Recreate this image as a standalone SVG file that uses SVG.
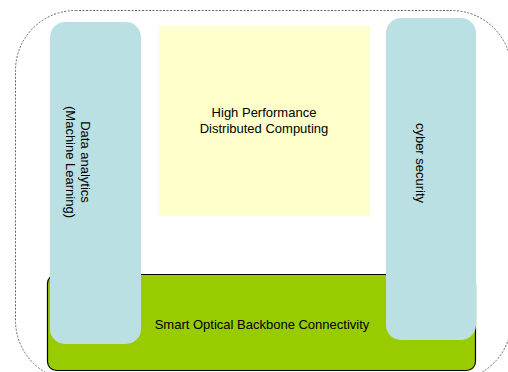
<svg xmlns="http://www.w3.org/2000/svg" width="508" height="372" viewBox="0 0 508 372">
  <style>
    .lbl { font-family: "Liberation Sans", Arial, sans-serif; font-size: 13px; fill: #000; }
    .pillar { fill: #BBE0E3; }
  </style>
  <rect width="508" height="372" fill="#ffffff"/>

  <!-- dotted outer boundary -->
  <g id="boundary">
    <rect x="15.5" y="10.5" width="496" height="370" rx="60" ry="60" fill="none" stroke="#666" stroke-width="1" stroke-dasharray="2,1.5"/>
  </g>

  <!-- backbone band -->
  <g id="backbone">
    <rect x="47.5" y="274.5" width="428" height="96" rx="9" ry="9" fill="#99CC00" stroke="#000" stroke-width="1.2"/>
    <text class="lbl" x="262" y="329" text-anchor="middle">Smart Optical Backbone Connectivity</text>
  </g>

  <!-- computing block -->
  <g id="computing">
    <rect x="159" y="26" width="211" height="190" fill="#FFFFCC"/>
    <text class="lbl" x="264" y="117" text-anchor="middle">High Performance</text>
    <text class="lbl" x="264" y="133" text-anchor="middle">Distributed Computing</text>
  </g>

  <!-- analytics pillar -->
  <g id="analytics">
    <rect class="pillar" x="50" y="22" width="91" height="322" rx="15" ry="15"/>
    <text class="lbl" transform="translate(81,162) rotate(90)" text-anchor="middle">Data analytics</text>
    <text class="lbl" transform="translate(66,162) rotate(90)" text-anchor="middle">(Machine Learning)</text>
  </g>

  <!-- security pillar -->
  <g id="security">
    <rect class="pillar" x="386" y="18" width="90" height="322" rx="15" ry="15"/>
    <text class="lbl" transform="translate(415.5,163) rotate(90)" text-anchor="middle">cyber security</text>
  </g>

  <g id="connectors"></g>
</svg>
